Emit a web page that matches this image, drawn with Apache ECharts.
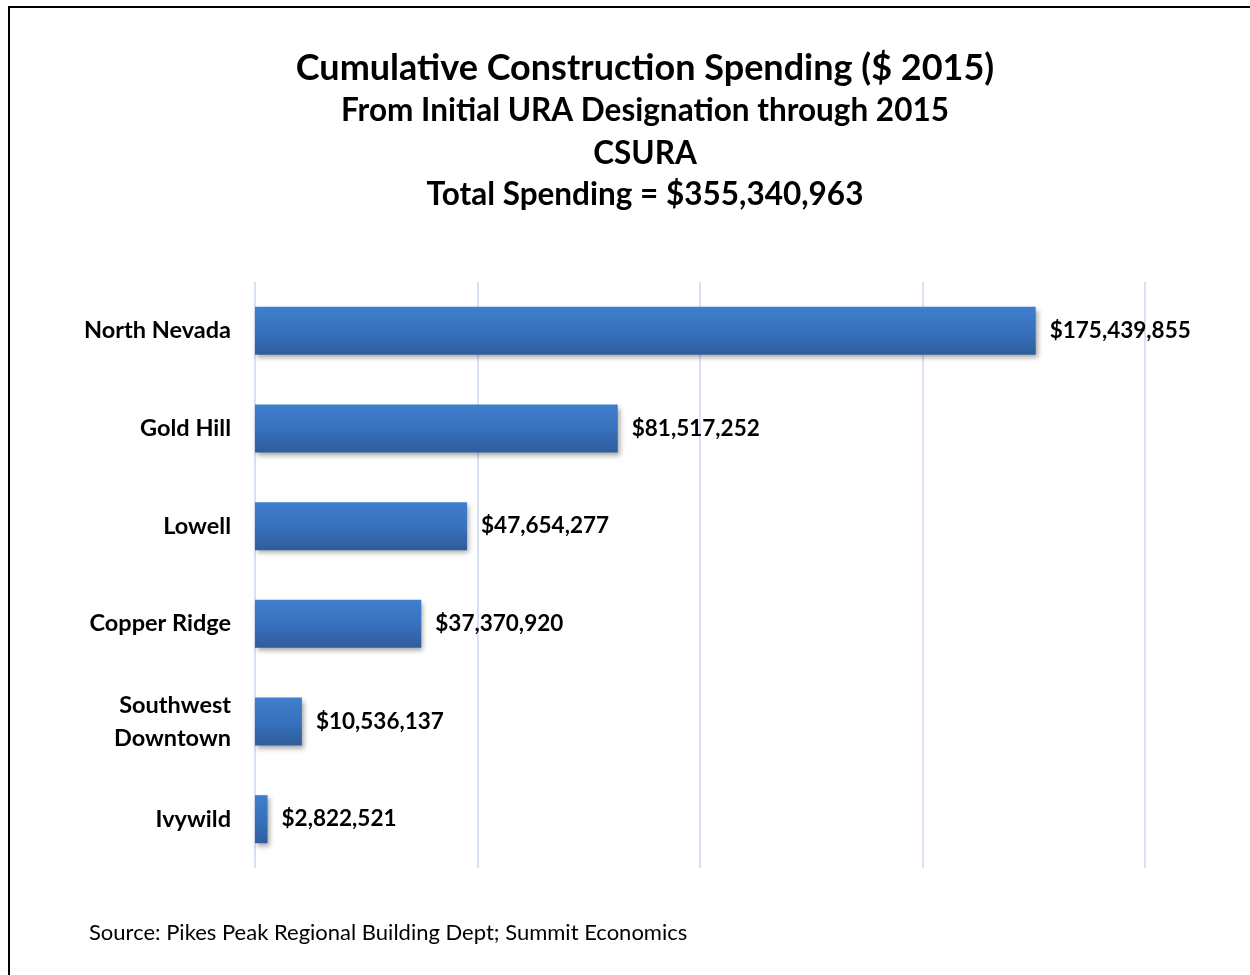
<!DOCTYPE html>
<html>
<head>
<meta charset="utf-8">
<script src="https://cdn.jsdelivr.net/npm/echarts@6/dist/echarts.min.js"></script>
<style>
  html, body { margin: 0; padding: 0; background: #ffffff; }
  #chart { width: 1250px; height: 975px; }
</style>
</head>
<body>
<div id="chart"></div>
<script>
// Urban renewal areas and their cumulative construction spending ($ 2015)
const categories = ['North Nevada', 'Gold Hill', 'Lowell', 'Copper Ridge', 'Southwest\nDowntown', 'Ivywild'];
const spending = [175439855, 81517252, 47654277, 37370920, 10536137, 2822521];

const titleLines = [
  'Cumulative Construction Spending ($ 2015)',
  'From Initial URA Designation through 2015',
  'CSURA',
  'Total Spending = $355,340,963'
];
const sourceNote = 'Source: Pikes Peak Regional Building Dept; Summit Economics';

const FONT = 'Lato, "Open Sans", sans-serif';

function money(v) {
  return '$' + v.toLocaleString('en-US');
}

const chart = echarts.init(document.getElementById('chart'), null, { renderer: 'canvas' });

const titleY = [45, 90, 133, 174];
const titleSize = [36, 31.5, 31.5, 31.5];

chart.setOption({
  backgroundColor: '#ffffff',
  animation: false,
  title: titleLines.map((t, i) => ({
    text: t,
    left: 640,
    top: titleY[i],
    textAlign: 'center',
    textStyle: { fontFamily: FONT, fontWeight: 'bold', fontSize: titleSize[i], color: '#000000' }
  })),
  graphic: [
    {
      type: 'rect',
      shape: { x: 9, y: 7, width: 1300, height: 1100 },
      style: { fill: 'none', stroke: '#000000', lineWidth: 2 },
      silent: true
    },
    {
      type: 'text',
      left: 89,
      top: 922,
      style: { text: sourceNote, fontFamily: FONT, fontSize: 22, fill: '#000000' }
    }
  ],
  grid: { left: 255, right: 105, top: 282, bottom: 107, containLabel: false },
  xAxis: {
    type: 'value',
    min: 0,
    max: 200000000,
    interval: 50000000,
    axisLabel: { show: false },
    axisLine: { show: false },
    axisTick: { show: false },
    splitLine: { show: true, lineStyle: { color: '#d6e2f2', width: 2 } }
  },
  yAxis: {
    type: 'category',
    inverse: true,
    data: categories,
    axisLine: { show: false },
    axisTick: { show: false },
    axisLabel: {
      margin: 24,
      align: 'right',
      fontFamily: FONT,
      fontWeight: 'bold',
      fontSize: 23.5,
      lineHeight: 33,
      color: '#000000'
    }
  },
  series: [{
    type: 'bar',
    data: spending,
    barWidth: 48,
    itemStyle: {
      color: new echarts.graphic.LinearGradient(0, 0, 0, 1, [
        { offset: 0, color: '#3f7fce' },
        { offset: 0.5, color: '#3871bd' },
        { offset: 1, color: '#2e5d9c' }
      ]),
      shadowColor: 'rgba(0,0,0,0.35)',
      shadowBlur: 5,
      shadowOffsetX: 2,
      shadowOffsetY: 3
    },
    label: {
      show: true,
      position: 'right',
      distance: 14,
      formatter: p => money(p.value),
      fontFamily: FONT,
      fontWeight: 'bold',
      fontSize: 22.5,
      color: '#000000'
    }
  }]
});
</script>
</body>
</html>
